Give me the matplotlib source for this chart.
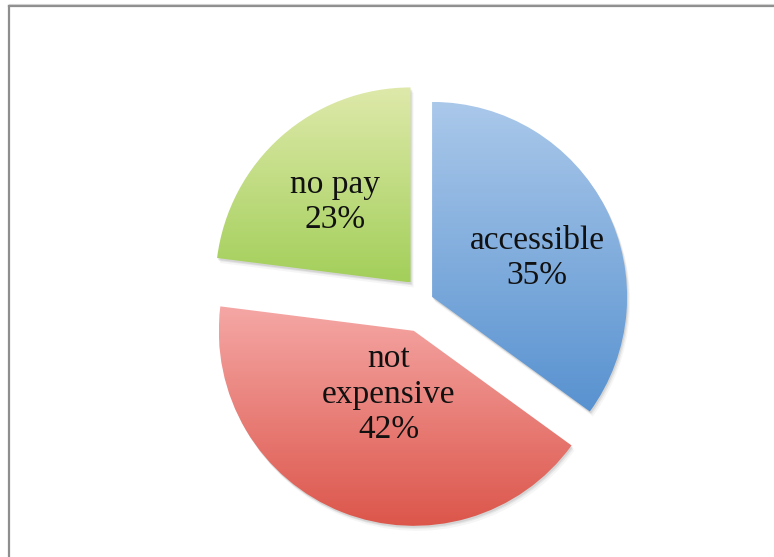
import numpy as np
import matplotlib
matplotlib.use('Agg')
import matplotlib.pyplot as plt
from matplotlib.patches import Wedge
from matplotlib.lines import Line2D
from matplotlib.colors import to_rgb

labels = ['accessible', 'not\nexpensive', 'no pay']
values = [35, 42, 23]
explode = [0.035, 0.17, 0.12]
top_colors = ['#aac8ea', '#f5a7a5', '#dee9aa']
bottom_colors = ['#5892d0', '#dc564b', '#a3cf5a']
label_dist = [0.57, 0.35, 0.57]
label_nudge = [(6, -12), (0, 0), (-2, -3)]   # pixels

W, H = 774, 557
R = 195.0            # pie radius in pixels
cx, cy = 426, 300    # pie centre (pixels from top-left)

fig = plt.figure(figsize=(W / 100, H / 100), dpi=100)
ax = fig.add_axes([0, 0, 1, 1])

wedges, _ = ax.pie(values, startangle=90, counterclock=False,
                   explode=explode, radius=1,
                   wedgeprops=dict(linewidth=0, facecolor='none'))

px = 1.0 / R
for i, w in enumerate(wedges):
    w.set_zorder(3)
    # soft shadow below / right
    for dx, dy, a in [(1, -2, 0.10), (2, -3, 0.08), (3, -5, 0.05)]:
        sh = Wedge((w.center[0] + dx * px, w.center[1] + dy * px), w.r,
                   w.theta1, w.theta2, facecolor='#404040', edgecolor='none',
                   alpha=a, zorder=1)
        ax.add_patch(sh)
    # vertical gradient fill clipped to the wedge
    ext = w.get_path().get_extents()
    c0 = np.array(to_rgb(top_colors[i]))
    c1 = np.array(to_rgb(bottom_colors[i]))
    t = np.linspace(0, 1, 256)[:, None, None]
    img = c0 * (1 - t) + c1 * t
    im = ax.imshow(img, extent=(ext.x0, ext.x1, ext.y0, ext.y1),
                   origin='upper', aspect='auto', zorder=2,
                   interpolation='bilinear')
    im.set_clip_path(w)

    mid = np.deg2rad((w.theta1 + w.theta2) / 2)
    tx = w.center[0] + label_dist[i] * np.cos(mid) + label_nudge[i][0] * px
    ty = w.center[1] + label_dist[i] * np.sin(mid) + label_nudge[i][1] * px
    ax.text(tx, ty, f'{labels[i]}\n{values[i]}%', ha='center', va='center',
            fontsize=24, family=['Liberation Serif', 'DejaVu Serif'],
            color='#111111', linespacing=1.2, zorder=5)

ax.set_xlim(-cx / R, (W - cx) / R)
ax.set_ylim(-(H - cy) / R, cy / R)
ax.set_aspect('auto')
ax.axis('off')

# grey chart-area frame (left and top edges visible)
fig.add_artist(Line2D([9 / W, 9 / W], [0, 1 - 6 / H], transform=fig.transFigure,
                      color='#8e8e8e', lw=1.6))
fig.add_artist(Line2D([9 / W, 1], [1 - 6 / H, 1 - 6 / H], transform=fig.transFigure,
                      color='#8e8e8e', lw=1.6))
fig.add_artist(Line2D([9 / W, 1], [1 - 4 / H, 1 - 4 / H], transform=fig.transFigure,
                      color='#d0d0d0', lw=0.8))

fig.savefig('out.png', dpi=100)
